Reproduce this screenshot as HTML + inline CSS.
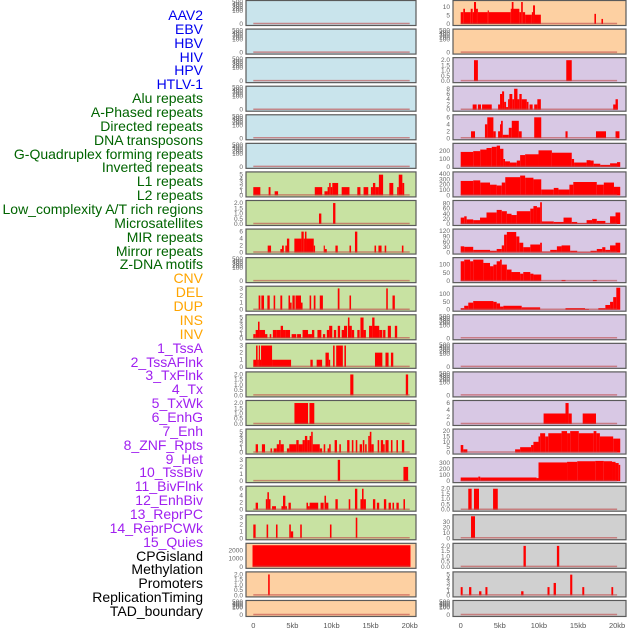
<!DOCTYPE html>
<html><head><meta charset="utf-8">
<style>
html,body{margin:0;padding:0;background:#fff;}
#wrap{position:relative;width:630px;height:630px;overflow:hidden;}
.lab{position:absolute;right:427px;font-family:"Liberation Sans",sans-serif;font-size:14px;line-height:14px;white-space:nowrap;}
svg{position:absolute;left:0;top:0;}
</style></head>
<body>
<div id="wrap">
<svg id="chart" width="630" height="630"></svg>
</div>
<script>
const labels = ["AAV2","EBV","HBV","HIV","HPV","HTLV-1","Alu repeats","A-Phased repeats","Directed repeats","DNA transposons","G-Quadruplex forming repeats","Inverted repeats","L1 repeats","L2 repeats","Low_complexity A/T rich regions","Microsatellites","MIR repeats","Mirror repeats","Z-DNA motifs","CNV","DEL","DUP","INS","INV","1_TssA","2_TssAFlnk","3_TxFlnk","4_Tx","5_TxWk","6_EnhG","7_Enh","8_ZNF_Rpts","9_Het","10_TssBiv","11_BivFlnk","12_EnhBiv","13_ReprPC","14_ReprPCWk","15_Quies","CPGisland","Methylation","Promoters","ReplicationTiming","TAD_boundary"];
const labelGroups = ["v","v","v","v","v","v","r","r","r","r","r","r","r","r","r","r","r","r","r","c","c","c","c","c","s","s","s","s","s","s","s","s","s","s","s","s","s","s","s","k","k","k","k","k"];
const xTicks = [0,5,10,15,20];
const xTickLabels = ["0","5kb","10kb","15kb","20kb"];

const E = [];
const T500 = [0,100,200,300,400,500];
const T5 = [0,1,2,3,4,5];
const T3 = [0,1,2,3];
const T2 = [0,0.5,1,1.5,2];
const T6 = [0,2,4,6];

// left column segments [startKb, endKb, value]
const L6 = [[0,0.9,2],[1.96,2.2,2],[2.73,3.17,1],[7.86,8.81,2],[9.1,9.5,1],[9.5,9.7,2],[9.7,9.9,3],[9.9,10.1,2],[10.1,10.85,3],[11.3,12.3,2],[13.3,13.7,2],[14.1,14.7,2],[15.04,15.3,2],[15.3,15.6,3],[15.6,16.06,2],[16.06,16.6,5],[17.4,17.9,3],[18.4,18.6,2],[18.6,19.06,5],[19.06,19.3,3]];
const L7 = [[8.4,8.7,1],[10.2,10.5,2]];
const L8 = [[1.84,2.27,2],[3.46,3.67,1],[3.67,3.9,2],[4.1,4.3,2],[4.3,4.6,4],[5.25,6.15,4],[6.15,6.45,6],[6.45,6.6,4],[6.6,6.8,6],[6.8,7.73,4],[7.73,7.9,2],[9.0,9.15,2],[9.15,9.4,1],[10.5,10.8,2],[12.3,12.5,2],[13.0,13.3,6],[15.5,15.7,2],[16.0,16.4,2],[16.8,17.0,2],[19.0,19.2,2]];
const L10 = [[0.68,0.9,2],[1.03,1.37,2],[1.8,2.1,2],[2.6,2.8,2],[3.46,3.7,2],[4.5,4.7,2],[4.7,4.9,1],[5.0,5.3,2],[5.4,6.1,2],[6.1,6.3,1],[7.2,7.4,2],[7.73,7.95,2],[8.5,8.9,2],[10.8,11.02,3],[12.3,12.5,2],[17.0,17.2,3],[17.8,18.1,2]];
const L11 = [[0,0.3,1],[0.3,0.6,2],[0.6,0.8,4],[0.8,1.5,2],[1.5,1.8,1],[2.1,2.3,1],[2.5,3.0,2],[3.0,3.5,2],[3.5,3.8,3],[3.8,4.1,2],[4.1,4.7,2],[4.9,5.5,1],[5.6,6.1,1],[6.3,7.0,2],[7.0,7.5,1],[7.5,7.8,2],[8.2,8.7,2],[8.9,9.2,1],[9.4,9.7,2],[9.7,10.1,3],[10.3,10.6,2],[10.8,11.1,3],[11.3,11.6,2],[11.6,12.0,3],[12.1,12.3,5],[12.3,12.6,3],[12.6,12.9,2],[13.3,13.6,2],[13.7,14.1,5],[14.1,14.4,2],[14.8,15.2,3],[15.2,15.5,5],[15.5,16.1,3],[16.1,16.5,2],[16.6,16.9,2],[17.2,17.6,3],[18.1,18.4,3]];
const L12 = [[0,0.35,1],[0.35,0.55,3],[0.55,0.7,1],[0.7,0.85,3],[0.85,0.99,1],[0.99,2.4,3],[2.4,4.83,1],[7.3,7.6,1],[8.1,8.8,1],[9.23,9.66,2],[9.66,9.83,1],[10.2,10.4,3],[10.6,11.45,3],[11.65,11.85,3],[15.56,16.5,2],[16.9,17.3,2],[17.6,17.9,2]];
const L13 = [[12.4,12.8,2],[19.5,19.8,2]];
const L14 = [[5.26,7.0,2],[7.18,7.8,2]];
const L15 = [[0.3,0.6,2],[1.1,1.5,2],[2.2,2.4,1],[2.6,3.0,1],[3.0,3.3,2],[3.3,3.5,3],[3.5,3.9,2],[4.3,4.6,1],[4.6,5.5,2],[5.5,5.8,3],[5.8,6.3,2],[6.3,6.6,3],[6.6,6.9,4],[6.9,7.2,3],[7.2,7.4,4],[7.4,7.6,5],[7.6,8.5,2],[8.5,8.8,1],[9.0,9.2,2],[9.5,9.7,1],[9.7,9.9,2],[10.4,10.7,3],[11.0,11.2,2],[12.0,12.3,3],[12.6,12.8,3],[13.1,13.3,3],[13.6,13.9,2],[14.0,14.2,3],[14.3,14.5,2],[14.7,14.9,4],[14.9,15.1,5],[15.1,15.4,2],[15.9,16.1,3],[16.3,16.6,3],[16.6,16.8,2],[16.9,17.3,3],[17.6,17.8,3],[18.3,18.5,3],[19.0,19.3,3]];
const L16 = [[10.8,11.1,3],[19.2,19.8,2]];
const L17 = [[0.3,0.6,2],[1.6,1.8,3],[1.8,2.0,5],[2.0,2.2,3],[2.4,2.9,1],[3.6,3.8,1],[3.8,4.1,4],[4.1,4.3,1],[4.5,4.8,2],[6.8,7.0,2],[7.0,7.2,1],[7.2,8.3,2],[8.6,9.0,2],[9.1,9.3,4],[9.3,9.6,2],[10.5,10.8,3],[12.2,12.4,3],[13.0,13.3,6],[13.7,13.9,3],[13.9,14.1,6],[14.1,14.4,3],[15.3,15.6,3],[15.8,16.1,2],[16.7,17.0,3],[17.3,17.6,2],[17.8,18.0,2],[18.3,18.6,2],[19.2,19.4,3]];
const L18 = [[0,0.3,2],[1.7,1.9,2],[2.9,3.1,2],[4.6,4.8,2],[4.8,5.1,1],[6.0,6.2,2],[9.8,10.0,2],[13.1,13.3,3]];
const L19 = [[-0.1,20.1,2650]];
const L20 = [[1.9,2.1,2]];

// right column segments
const R0 = [[0,0.33,7],[0.33,0.55,9],[0.55,1.28,7],[1.28,1.53,9],[1.53,1.7,7],[1.7,1.96,13],[1.96,2.2,9],[2.2,3.45,7],[3.45,3.6,8],[3.6,6.4,7],[6.4,6.53,9],[6.53,6.75,13],[6.75,7.5,9],[7.5,7.73,7],[7.73,7.94,13],[7.94,8.24,7],[8.24,9.1,5.5],[9.1,9.25,7],[9.25,9.5,11],[9.5,10.25,5.5],[17.1,17.3,6],[18.0,18.2,3]];
const R2 = [[1.7,2.2,2],[13.5,14.2,2]];
const R3 = [[1.53,2.04,2],[2.2,2.6,2],[2.73,3.97,2],[4.78,5.03,2],[5.03,5.29,6],[5.29,5.55,7],[5.55,5.8,3],[5.8,6.06,1],[6.06,6.23,4],[6.23,6.6,6],[6.6,6.83,4],[6.83,7.26,8],[7.26,7.5,4],[7.5,7.8,6],[7.8,8.45,4],[8.45,8.67,3],[8.8,9.2,2],[9.4,9.8,2],[9.8,10.25,4],[19.5,19.8,2],[19.8,20.1,4]];
const R4 = [[1.32,1.83,2],[3.1,3.4,4],[3.4,4.18,6],[4.18,4.48,2],[4.78,5.03,2],[5.03,5.16,4],[5.16,5.38,5],[5.38,6.15,1],[6.15,6.53,3],[6.53,7.43,5],[7.43,7.8,2],[9.4,10.3,6],[13.4,13.67,2],[17.3,18.58,2],[19.8,20.3,2]];
const R5 = [[0,1.6,190],[1.6,2.5,200],[2.5,3.3,220],[3.3,3.97,240],[3.97,4.6,255],[4.6,5.03,270],[5.03,5.46,230],[5.46,5.67,100],[5.67,6.3,70],[6.3,7.17,55],[7.17,7.6,80],[7.6,8.24,150],[8.24,9.95,160],[9.95,11.66,210],[11.66,14.2,180],[14.2,14.5,100],[14.5,16.1,55],[16.1,16.6,85],[16.6,17.0,80],[17.0,17.85,40],[17.85,19.1,25],[19.1,19.99,45],[19.99,20.4,60]];
const R6 = [[0,1.6,270],[1.6,2.5,280],[2.5,3.75,240],[3.75,4.6,200],[4.6,5.25,185],[5.25,5.7,240],[5.7,7.6,340],[7.6,8.24,370],[8.24,9.3,330],[9.3,10.3,300],[10.3,11.9,110],[11.9,12.5,140],[12.5,13.9,110],[13.9,14.4,200],[14.4,17.4,250],[17.4,18.3,200],[18.3,19.6,240],[19.6,20.4,160]];
const R7 = [[0,0.45,25],[0.45,0.76,30],[0.76,1.6,18],[1.6,2.47,15],[2.47,3.3,25],[3.3,4.6,45],[4.6,5.25,55],[5.25,5.9,50],[5.9,6.5,40],[6.5,7.17,35],[7.17,8.9,50],[8.9,9.3,60],[9.3,9.75,70],[9.75,10.16,65],[10.16,10.38,85],[10.38,11.9,10],[11.9,13.15,8],[13.15,14.2,25],[14.2,14.9,8],[14.9,16.1,3],[16.1,16.8,15],[16.8,17.4,20],[17.4,18.5,12],[18.5,19.1,3],[19.1,19.8,30],[19.8,20.4,45]];
const R8 = [[0,0.45,35],[0.45,1.6,32],[1.6,3.75,15],[3.75,4.6,10],[4.6,5.25,20],[5.25,5.55,40],[5.55,5.9,100],[5.9,7.1,115],[7.1,7.5,90],[7.5,8.0,55],[8.0,8.9,30],[8.9,10.16,45],[10.16,10.38,55],[10.38,11.45,5],[11.45,12.3,15],[12.3,12.9,35],[12.9,14.0,40],[14.0,14.9,10],[14.9,16.6,3],[16.6,17.4,10],[17.4,18.1,20],[18.1,18.5,30],[18.5,19.1,15],[19.1,19.8,40],[19.8,20.4,55]];
const R9 = [[0,0.45,120],[0.45,1.2,130],[1.2,1.6,120],[1.6,2.9,130],[2.9,3.75,110],[3.75,4.18,90],[4.18,4.6,100],[4.6,5.03,120],[5.03,5.25,130],[5.25,5.9,100],[5.9,6.5,70],[6.5,7.6,55],[7.6,8.0,45],[8.0,8.9,55],[8.9,9.3,45],[9.3,10.3,40],[12.9,13.4,7],[16.9,17.4,7]];
const R10 = [[0,0.45,10],[0.45,0.97,25],[0.97,1.6,45],[1.6,4.18,55],[4.18,4.6,50],[4.6,5.03,40],[5.03,5.46,20],[5.46,7.8,25],[7.8,10.16,15],[13.4,15.9,10],[15.9,16.4,5],[17.6,18.5,10],[18.5,19.1,30],[19.1,19.5,50],[19.5,19.9,80],[19.9,20.4,140]];
const R14 = [[10.6,13.4,3],[13.4,13.8,6],[13.8,14.2,3],[15.6,17.3,3]];
const R15 = [[0,0.33,7],[0.33,0.85,3],[6.96,7.6,3],[7.6,9.0,5],[9.0,9.3,7],[9.3,9.95,10],[9.95,10.16,15],[10.16,10.8,18],[10.8,11.2,15],[11.2,12.9,18],[12.9,13.6,20],[13.6,14.0,18],[14.0,15.1,20],[15.1,17.0,18],[17.0,17.35,20],[17.35,17.8,18],[17.8,19.5,15],[19.5,20.4,13]];
const R16 = [[0,2.25,60],[2.25,2.5,75],[2.5,9.7,60],[9.7,9.95,50],[9.95,13.6,310],[13.6,14.9,320],[14.9,17.2,330],[17.2,18.3,335],[18.3,19.35,330],[19.35,19.8,320],[19.8,20.2,300],[20.2,20.4,270]];
const R17 = [[0.97,1.4,2],[1.7,2.34,2],[4.14,4.74,2]];
const R18 = [[1.32,1.83,40]];
const R19 = [[8.03,8.33,2],[12.3,12.6,2]];
const R20 = [[0,0.25,2],[1.07,1.36,2],[2.35,2.65,1],[3.16,3.42,2],[7.73,8.03,1],[11.1,11.36,2],[11.88,12.18,3],[14.0,14.27,5],[15.55,15.8,2],[19.27,19.5,2]];

const leftSegs = [E,E,E,E,E,E,L6,L7,L8,E,L10,L11,L12,L13,L14,L15,L16,L17,L18,L19,L20,E];
const leftMax  = [500,500,500,500,500,500,5.3,2.1,6.3,500,3.1,5.3,3.1,2.1,2.1,5.3,3.1,6.3,3.2,2700,2.1,500];
const leftTicks = [T500,T500,T500,T500,T500,T500,T5,T2,T6,T500,T3,T5,T3,T2,T2,T5,T3,T6,T3,[0,1000,2000],T2,T500];
const rightSegs = [R0,E,R2,R3,R4,R5,R6,R7,R8,R9,R10,E,E,E,R14,R15,R16,R17,R18,R19,R20,E];
const rightMax  = [13,500,2.1,8.4,6.3,280,410,86,123,133,140,500,500,500,6.3,20.5,365,2.1,40,2.1,5.3,500];
const rightTicks = [[0,5,10],T500,T2,[0,2,4,6,8],T6,[0,100,200],[0,100,200,300,400],[0,20,40,60,80],[0,30,60,90,120],[0,50,100],[0,50,100],T500,T500,T500,T6,[0,5,10,15,20],[0,100,200,300],T2,[0,10,20,30],T2,T5,T500];
const leftColors = ["#c9e4ec","#c9e4ec","#c9e4ec","#c9e4ec","#c9e4ec","#c9e4ec","#c8e2a2","#c8e2a2","#c8e2a2","#c8e2a2","#c8e2a2","#c8e2a2","#c8e2a2","#c8e2a2","#c8e2a2","#c8e2a2","#c8e2a2","#c8e2a2","#c8e2a2","#fdd0a2","#fdd0a2","#fdd0a2"];
const rightColors = ["#fdd0a2","#fdd0a2","#d8c8e4","#d8c8e4","#d8c8e4","#d8c8e4","#d8c8e4","#d8c8e4","#d8c8e4","#d8c8e4","#d8c8e4","#d8c8e4","#d8c8e4","#d8c8e4","#d8c8e4","#d8c8e4","#d8c8e4","#d0d0d0","#d0d0d0","#d0d0d0","#d0d0d0","#d0d0d0"];

const NS = "http://www.w3.org/2000/svg";
const svg = document.getElementById("chart");
const wrap = document.getElementById("wrap");
const groupColors = {v:"#0000ee",r:"#006400",c:"#ffa500",s:"#a020f0",k:"#000000"};

labels.forEach((t,k)=>{
  const d=document.createElement("div");
  d.className="lab";
  d.style.top=(8+k*13.86)+"px";
  d.style.color=groupColors[labelGroups[k]];
  d.textContent=t;
  
  
  wrap.appendChild(d);
});

function mk(tag,attrs){const e=document.createElementNS(NS,tag);for(const a in attrs)e.setAttribute(a,attrs[a]);return e;}

const cols=[{x0:246,x1:416,k0:253.3,segs:leftSegs,max:leftMax,ticks:leftTicks,colors:leftColors,name:'left'},
            {x0:453,x1:626,k0:460.7,segs:rightSegs,max:rightMax,ticks:rightTicks,colors:rightColors,name:'right'}];
const pxPerKb=7.82;
cols.forEach(c=>{
  const xs=kb=>c.k0+kb*pxPerKb;
  for(let i=0;i<22;i++){
    const top=0.5+i*28.57;
    const h=(i===21)?16:25;
    const g=mk("g",{});
    
    
    svg.appendChild(g);
    const bg=mk("rect",{x:c.x0,y:top,width:c.x1-c.x0,height:h,fill:c.colors[i],stroke:"#5a5a5a","stroke-width":1.2});
    
    
    g.appendChild(bg);
    const y0=top+h-1.5, yT=top+1.5;
    const m=c.max[i];
    const empty=c.segs[i].length===0;
    const ys=v=>{
      if(empty&&m===500){ return v===0?y0:yT+(500-v)/500*(h*0.45); }
      return y0-(v/m)*(y0-yT);
    };
    c.segs[i].forEach(s=>{
      const a=xs(Math.max(s[0],-0.1)), b=xs(Math.min(s[1],20.4));
      const r=mk("rect",{x:a,y:ys(s[2]),width:Math.max(b-a,1.2),height:y0-ys(s[2]),fill:"#ff0000"});
      
      
      g.appendChild(r);
    });
    const bl=mk("line",{x1:xs(0),x2:xs(20),y1:y0-0.5,y2:y0-0.5,stroke:"#c04848","stroke-width":1.5,"stroke-opacity":0.6});
    
    
    g.appendChild(bl);
    c.ticks[i].forEach(v=>{
      const t=mk("text",{x:c.x0-3,y:ys(v)+2,"text-anchor":"end","font-size":6.5,fill:"#666","font-family":"Liberation Sans, sans-serif"});
      t.textContent=(c.ticks[i]===T2)?v.toFixed(1):String(v);
      
      
      g.appendChild(t);
    });
  }
  xTicks.forEach((v,j)=>{
    const t=mk("text",{x:xs(v),y:628,"text-anchor":"middle","font-size":7.5,fill:"#555","font-family":"Liberation Sans, sans-serif"});
    t.textContent=xTickLabels[j];
    
    
    svg.appendChild(t);
  });
});
</script>
</body></html>
